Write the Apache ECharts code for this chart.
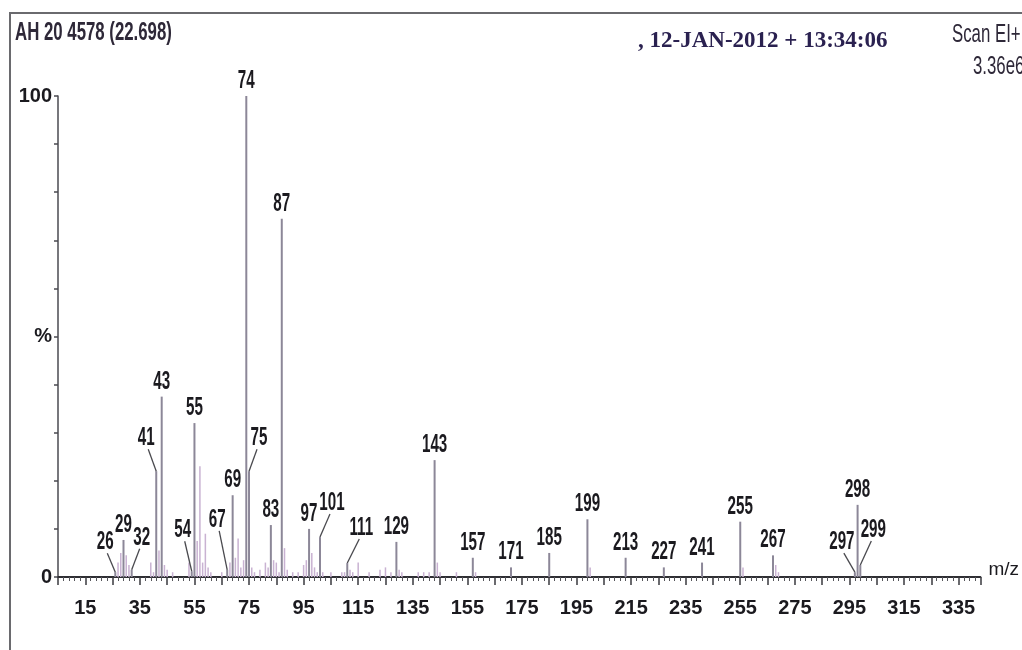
<!DOCTYPE html>
<html>
<head>
<meta charset="utf-8">
<title>AH 20 4578 mass spectrum</title>
<script src="https://cdn.jsdelivr.net/npm/echarts@6/dist/echarts.min.js"></script>
<style>
  html, body { margin: 0; padding: 0; background: #ffffff; }
  #chart { width: 1022px; height: 650px; }
</style>
</head>
<body>
<div id="chart"></div>
<script>
// Annotated ions: m/z and relative abundance (% of base peak)
const labelledMz  = [26, 29, 32, 41, 43, 54, 55, 67, 69, 74, 75, 83, 87, 97, 101, 111, 129, 143,
                     157, 171, 185, 199, 213, 227, 241, 255, 267, 297, 298, 299];
const labelledPct = [1.0, 7.7, 1.5, 22, 37.5, 1.2, 32, 1.5, 17, 100, 22, 10.8, 74.5, 10, 8.3, 2.9, 7.3, 24.3,
                     4, 2, 5, 12, 4, 2, 3, 11.5, 4.5, 1.0, 15, 2.5];

// Unannotated background ions
const minorMz  = [27, 28, 30, 31, 39, 40, 42, 44, 45, 47, 53, 56, 57, 58, 59, 60, 61, 65, 68, 70, 71, 72, 73,
                  76, 77, 79, 81, 82, 84, 85, 86, 88, 89, 91, 93, 95, 96, 98, 99, 100, 102, 105, 109, 110,
                  112, 113, 115, 119, 123, 125, 127, 130, 131, 137, 139, 141, 144, 145, 151, 158, 200, 256,
                  268, 269];
const minorPct = [3, 5, 4.5, 2.5, 3, 1, 5.5, 2.5, 1.5, 1, 3, 7.5, 23, 3, 9, 2, 1, 1, 3, 4, 8, 2, 3.5,
                  2, 1, 1.5, 3, 2, 3.5, 3, 1, 6, 1.5, 1, 1, 2.5, 3.5, 5, 2, 1, 1, 1, 1, 1,
                  1.5, 1, 3, 1, 1.5, 2, 1, 1.5, 1, 1, 1, 1, 3, 1, 1, 1, 2, 2,
                  2.5, 1];

// Tick labels printed under the m/z axis
const xTickLabels = [15, 35, 55, 75, 95, 115, 135, 155, 175, 195, 215, 235, 255, 275, 295, 315, 335];

// Crowded ions get their label pushed aside with a leader line (px, label centre relative to peak top)
const leaderOffsets = {
  26: [-10, -30], 32: [10, -32], 41: [-10, -33], 54: [-9, -41], 67: [-10, -50],
  75: [10, -33], 101: [12, -34], 111: [14, -35], 297: [-13, -30], 299: [13, -35]
};

const SANS = '"Liberation Sans", Arial, Helvetica, sans-serif';
const INK = '#1b1a1f';
const HEAD = '#2e2838';
const PEAK = '#8c8798';
const MINOR = '#c9b2d2';

// squeezed instrument-style lettering for free text
function squeezedText(x, y, text, size, bold, extra) {
  return Object.assign({
    type: 'text', x: x, y: y, scaleX: 0.7, silent: true,
    style: { text: text, fontFamily: SANS, fontWeight: bold ? 'bold' : 'normal', fontSize: size,
             fill: HEAD, verticalAlign: 'middle', align: 'left' }
  }, extra || {});
}

const chart = echarts.init(document.getElementById('chart'), null, { renderer: 'canvas' });

function peakLine(api, color, width) {
  const mz = api.value(0), pct = api.value(1);
  const base = api.coord([mz, 0]);
  const top = api.coord([mz, pct]);
  return { base, top, el: {
    type: 'line',
    shape: { x1: base[0], y1: base[1], x2: top[0], y2: top[1] },
    style: { stroke: color, lineWidth: width }
  }};
}

const option = {
  animation: false,
  backgroundColor: '#ffffff',
  grid: { left: 58, right: 38, top: 96, bottom: 73, containLabel: false },
  xAxis: {
    type: 'value',
    min: 5,
    max: 343,
    interval: 10,
    name: 'm/z',
    nameLocation: 'end',
    nameGap: 8,
    nameTextStyle: { fontFamily: SANS, fontSize: 19, color: INK, verticalAlign: 'bottom', padding: [0, 0, -2, 0] },
    axisLine: { show: true, lineStyle: { color: '#2e2e33', width: 2 } },
    axisTick: { show: true, length: 8, lineStyle: { color: '#3a3a3f', width: 1.5 } },
    minorTick: { show: true, splitNumber: 5, length: 4, lineStyle: { color: '#55555a', width: 1 } },
    axisLabel: {
      margin: 21,
      fontFamily: SANS,
      fontWeight: 'bold',
      fontSize: 20,
      color: INK,
      showMinLabel: true,
      showMaxLabel: true,
      formatter: v => (xTickLabels.indexOf(Math.round(v)) >= 0 ? String(Math.round(v)) : '')
    },
    splitLine: { show: false },
    minorSplitLine: { show: false }
  },
  yAxis: {
    type: 'value',
    min: 0,
    max: 100,
    interval: 10,
    axisLine: { show: true, lineStyle: { color: '#4a4a50', width: 1.5 } },
    axisTick: { show: true, length: 4, lineStyle: { color: '#4a4a50', width: 1.5 } },
    axisLabel: {
      margin: 6,
      fontFamily: SANS,
      fontWeight: 'bold',
      fontSize: 20,
      color: INK,
      formatter: v => (v === 100 ? '100' : v === 50 ? '%' : v === 0 ? '0' : '')
    },
    splitLine: { show: false }
  },
  graphic: [
    { type: 'line', shape: { x1: 9, y1: 13, x2: 1022, y2: 13 }, style: { stroke: '#6a6a6e', lineWidth: 2 }, silent: true },
    { type: 'line', shape: { x1: 10, y1: 13, x2: 10, y2: 650 }, style: { stroke: '#6a6a6e', lineWidth: 2 }, silent: true },
    squeezedText(15, 33, 'AH 20 4578 (22.698)', 24, true, { scaleY: 1.05 }),
    { type: 'text', x: 638, y: 41, silent: true,
      style: { text: ', 12-JAN-2012 + 13:34:06', fontFamily: '"Liberation Serif", "DejaVu Serif", serif',
               fontWeight: 'bold', fontSize: 23, fill: '#2a2150', verticalAlign: 'middle', align: 'left' } },
    squeezedText(952, 35, 'Scan EI+', 24, false, { scaleY: 1.05 }),
    squeezedText(973, 67, '3.36e6', 24, false, { scaleY: 1.05 })
  ],
  series: [
    {
      name: 'background ions',
      type: 'custom',
      z: 2,
      data: minorMz.map((m, i) => [m, minorPct[i]]),
      renderItem: (params, api) => peakLine(api, MINOR, 1.5).el
    },
    {
      name: 'annotated ions',
      type: 'custom',
      z: 3,
      data: labelledMz.map((m, i) => [m, labelledPct[i]]),
      renderItem: (params, api) => {
        const p = peakLine(api, PEAK, 2);
        const mz = api.value(0);
        const off = leaderOffsets[mz];
        const lx = p.top[0] + (off ? off[0] : 0);
        const ly = p.top[1] + (off ? off[1] : -15);
        const children = [p.el, {
          type: 'text', x: lx, y: ly, scaleX: 0.66, scaleY: 1.1,
          style: { text: String(mz), fontFamily: SANS, fontWeight: 'bold', fontSize: 23,
                   fill: INK, align: 'center', verticalAlign: 'middle' }
        }];
        if (off) {
          children.push({
            type: 'line',
            shape: { x1: lx + (off[0] < 0 ? 2 : -2), y1: ly + 11, x2: p.top[0], y2: p.top[1] },
            style: { stroke: '#4a4a4f', lineWidth: 1.3 }
          });
        }
        return { type: 'group', children };
      }
    }
  ]
};

chart.setOption(option);
</script>
</body>
</html>
